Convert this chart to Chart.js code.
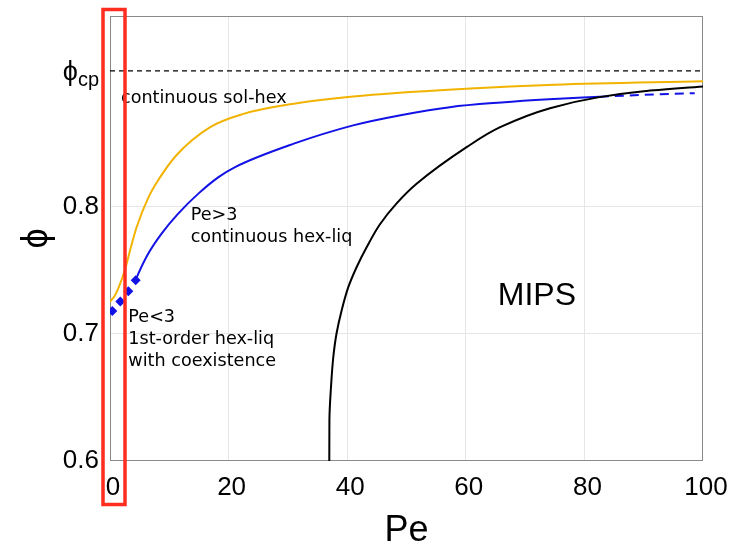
<!DOCTYPE html>
<html>
<head>
<meta charset="utf-8">
<script src="https://cdn.jsdelivr.net/npm/chart.js@4/dist/chart.umd.min.js"></script>
<style>
  html, body { margin: 0; padding: 0; background: #fff; }
  #wrap { width: 742px; height: 545px; }
</style>
</head>
<body>
<div id="wrap"><canvas id="diagrama"></canvas></div>
<script>
// eixos
const peTicks = [0, 20, 40, 60, 80, 100];
const phiTicks = [0.6, 0.7, 0.8];
const phiCp = 0.9069;

// sol-hex (laranja)
const solHexPe  = [0, 0.8, 1.5, 2.5, 3.4, 4.5, 6.5, 8.1, 11.2, 16.9, 22.5, 31, 41, 60, 75, 100];
const solHexPhi = [0.7252, 0.730, 0.737, 0.750, 0.766, 0.784, 0.8076, 0.8207, 0.8405, 0.8626, 0.873, 0.881, 0.8867, 0.8928, 0.896, 0.8987];

// hex-liq continua (azul)
const hexLiqPe  = [4.33, 4.78, 6.46, 8.7, 11.5, 14.9, 18.3, 21.1, 31, 41, 49, 57.3, 66, 74, 82.6];
const hexLiqPhi = [0.7422, 0.7474, 0.7632, 0.7789, 0.7946, 0.8103, 0.8233, 0.8312, 0.8496, 0.864, 0.872, 0.8783, 0.882, 0.8845, 0.8865];

// continuacao tracejada
const hexLiqTailPe  = [82.6, 90, 98.6];
const hexLiqTailPhi = [0.8865, 0.888, 0.8893];

// hex-liq de 1a ordem (coexistencia)
const coexPe  = [0.39, 1.74, 3.09, 4.33];
const coexPhi = [0.718, 0.7255, 0.7335, 0.7422];

// fronteira MIPS (preto), ordenada em phi
const mipsPe  = [36.98, 37.0, 37.27, 37.66, 38.2, 39.07, 40.2, 41.6, 43.3, 45.5, 48.3, 51.7, 60.2, 65.8, 74.2, 82.3, 90, 100];
const mipsPhi = [0.6, 0.632, 0.6584, 0.682, 0.7003, 0.7186, 0.7369, 0.7526, 0.7683, 0.786, 0.8024, 0.818, 0.847, 0.8626, 0.8775, 0.886, 0.8908, 0.8946];

const pontos = (xs, ys) => xs.map((x, i) => ({ x: x, y: ys[i] }));

const notas = [
    { pe: 1.85, phi: 0.8812, linhas: ['continuous sol-hex'] },
    { pe: 13.6, phi: 0.7899, linhas: ['Pe>3', 'continuous hex-liq'] },
    { pe: 3.09, phi: 0.7094, linhas: ['Pe<3', '1st-order hex-liq', 'with coexistence'] }
];

const fonteEixo = '"Liberation Sans", Arial, "DejaVu Sans", sans-serif';
const fonteNota = '"DejaVu Sans", sans-serif';

const anotacoes = {
    id: 'anotacoes',
    beforeDatasetsDraw(chart) {
        const { ctx, chartArea: a } = chart;
        ctx.save();
        ctx.strokeStyle = '#8a8a8a';
        ctx.lineWidth = 1;
        ctx.strokeRect(a.left + 0.5, a.top + 0.5, a.right - a.left - 1, a.bottom - a.top - 1);
        ctx.restore();
    },
    afterDatasetsDraw(chart) {
        const { ctx, scales: { x, y } } = chart;
        ctx.save();
        ctx.fillStyle = '#000';
        ctx.textBaseline = 'alphabetic';
        ctx.textAlign = 'left';
        ctx.font = '17.6px ' + fonteNota;
        notas.forEach(n => {
            const px = x.getPixelForValue(n.pe);
            const py = y.getPixelForValue(n.phi);
            n.linhas.forEach((t, i) => ctx.fillText(t, px, py + i * 22));
        });

        ctx.font = '32px ' + fonteEixo;
        ctx.fillText('MIPS', x.getPixelForValue(65.4), y.getPixelForValue(0.7225));

        // rotulo phi_cp ao lado do eixo
        const yCp = y.getPixelForValue(phiCp);
        const xDir = x.left - 11;
        ctx.textAlign = 'right';
        ctx.font = '20px ' + fonteEixo;
        const wCp = ctx.measureText('cp').width;
        ctx.fillText('cp', xDir, yCp + 15);
        ctx.font = '27px ' + fonteEixo;
        ctx.fillText('ϕ', xDir - wCp, yCp + 9);
        ctx.restore();
    },
    afterDraw(chart) {
        const { ctx, scales: { x } } = chart;
        const x0 = x.getPixelForValue(0);
        ctx.save();
        ctx.strokeStyle = '#ff2d1f';
        ctx.lineWidth = 3.5;
        ctx.strokeRect(x0 - 7, 9.5, 22, 495);
        ctx.restore();
    }
};

new Chart(document.getElementById('diagrama'), {
    type: 'line',
    data: {
        datasets: [
            {
                label: 'MIPS',
                data: pontos(mipsPe, mipsPhi),
                indexAxis: 'y',
                borderColor: '#000',
                borderWidth: 2,
                pointRadius: 0,
                cubicInterpolationMode: 'monotone'
            },
            {
                label: 'phi_cp',
                data: pontos([0, 100], [phiCp, phiCp]),
                borderColor: '#000',
                borderWidth: 1.2,
                borderDash: [5, 4],
                pointRadius: 0
            },
            {
                label: 'sol-hex',
                data: pontos(solHexPe, solHexPhi),
                borderColor: '#f2b300',
                borderWidth: 2,
                pointRadius: 0,
                cubicInterpolationMode: 'monotone'
            },
            {
                label: 'hex-liq',
                data: pontos(hexLiqPe, hexLiqPhi),
                borderColor: '#1212e6',
                borderWidth: 2,
                pointRadius: 0,
                cubicInterpolationMode: 'monotone'
            },
            {
                label: 'hex-liq (extrap.)',
                data: pontos(hexLiqTailPe, hexLiqTailPhi),
                borderColor: '#1212e6',
                borderWidth: 2,
                borderDash: [9, 6],
                pointRadius: 0,
                cubicInterpolationMode: 'monotone'
            },
            {
                label: 'coexistencia',
                data: pontos(coexPe, coexPhi),
                showLine: false,
                pointStyle: 'rectRot',
                pointRadius: 5,
                pointBackgroundColor: '#1212e6',
                pointBorderColor: '#1212e6',
                pointBorderWidth: 0
            }
        ]
    },
    options: {
        responsive: true,
        maintainAspectRatio: false,
        animation: false,
        layout: { padding: { top: 16, right: 39, left: 0, bottom: 0 } },
        plugins: {
            legend: { display: false },
            tooltip: { enabled: false }
        },
        scales: {
            x: {
                type: 'linear',
                min: 0,
                max: 100,
                afterFit: (s) => { s.height = 84; s.paddingLeft = 0; s.paddingRight = 0; },
                afterBuildTicks: (s) => { s.ticks = peTicks.map(v => ({ value: v })); },
                grid: {
                    color: (c) => (c.tick && (c.tick.value === 0 || c.tick.value === 100)) ? 'transparent' : '#e6e6e6',
                    drawTicks: false
                },
                border: { display: false },
                ticks: {
                    color: '#000',
                    padding: 11,
                    labelOffset: 3,
                    maxRotation: 0,
                    font: { family: fonteEixo, size: 26 }
                },
                title: {
                    display: true,
                    text: 'Pe',
                    color: '#000',
                    font: { family: fonteEixo, size: 36, lineHeight: 0.78 },
                    padding: { top: 0, bottom: 0 }
                }
            },
            y: {
                type: 'linear',
                min: 0.6,
                max: 0.95,
                afterFit: (s) => { s.width = 110; s.paddingTop = 0; s.paddingBottom = 0; },
                afterBuildTicks: (s) => { s.ticks = phiTicks.map(v => ({ value: v })); },
                grid: {
                    color: (c) => (c.tick && c.tick.value === 0.6) ? 'transparent' : '#e6e6e6',
                    drawTicks: false
                },
                border: { display: false },
                ticks: {
                    color: '#000',
                    padding: 11,
                    font: { family: fonteEixo, size: 26 },
                    callback: (v) => v.toFixed(1)
                },
                title: {
                    display: true,
                    text: 'ϕ',
                    color: '#000',
                    font: { family: fonteEixo, size: 36, lineHeight: 1 },
                    padding: { top: 19, bottom: 0 }
                }
            }
        }
    },
    plugins: [anotacoes]
});
</script>
</body>
</html>
